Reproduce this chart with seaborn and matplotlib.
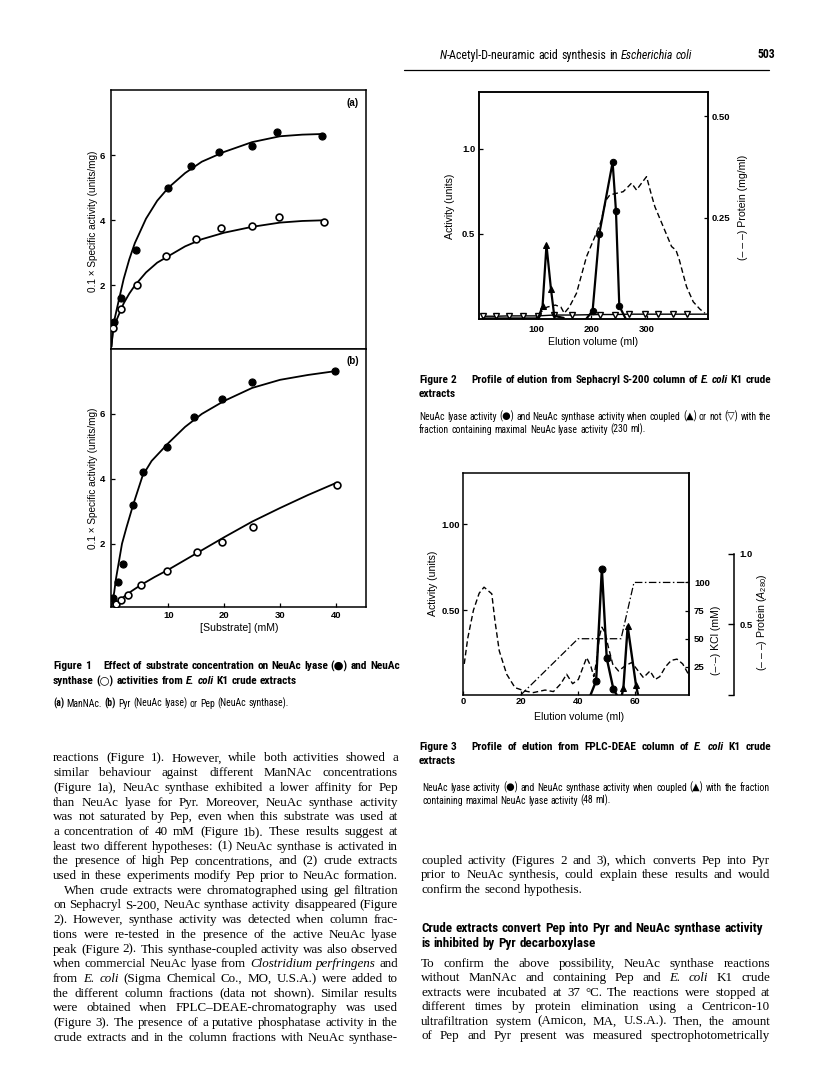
import matplotlib
matplotlib.use("Agg")
import matplotlib.pyplot as plt
import seaborn as sns
import numpy as np
import pandas as pd
from matplotlib import font_manager as fm

# ------------------------------------------------------------------ DATA
# Figure 1a  (ManNAc)
f1a_lyase_x = [0.2, 1.6, 4.2, 9.9, 14.1, 19.0, 24.9, 29.4, 37.5]
f1a_lyase_y = [0.87, 1.62, 3.08, 5.0, 5.68, 6.1, 6.29, 6.70, 6.58]
f1a_synth_x = [0.05, 1.5, 4.3, 9.6, 15.0, 19.5, 25.0, 29.8, 37.8]
f1a_synth_y = [0.70, 1.28, 2.0, 2.89, 3.44, 3.75, 3.83, 4.10, 3.95]
f1a_curve_x = [-0.2, 0.15, 1, 2, 3, 4, 6, 8, 10, 13, 16, 20, 25, 30, 34, 37.7]
f1a_lyase_curve = [0.12, 0.8, 1.45, 2.2, 2.8, 3.3, 4.05, 4.6, 5.0, 5.45, 5.8, 6.1, 6.4, 6.58, 6.63, 6.65]
f1a_synth_curve = [0.12, 0.7, 1.05, 1.45, 1.75, 2.0, 2.4, 2.7, 2.9, 3.2, 3.42, 3.62, 3.8, 3.93, 3.98, 4.0]

# Figure 1b  (Pyr / Pep)
f1b_lyase_x = [0.15, 0.9, 1.9, 3.7, 5.4, 9.7, 14.6, 19.6, 25.0, 39.8]
f1b_lyase_y = [0.34, 0.82, 1.39, 3.2, 4.21, 4.97, 5.9, 6.45, 6.97, 7.31]
f1b_synth_x = [0.6, 1.5, 2.8, 5.05, 9.8, 15.1, 19.6, 25.1, 40.2]
f1b_synth_y = [0.14, 0.28, 0.43, 0.74, 1.17, 1.73, 2.06, 2.51, 3.8]
f1b_lyase_curve_x = [-0.2, 0.3, 0.6, 1.1, 1.7, 2.5, 3.7, 5.4, 7, 10, 13, 16, 20, 25, 30, 35, 40]
f1b_lyase_curve_y = [0.05, 0.5, 0.9, 1.4, 2.0, 2.5, 3.2, 4.1, 4.55, 5.1, 5.6, 6.0, 6.4, 6.8, 7.05, 7.2, 7.32]
f1b_synth_curve_x = [-0.2, 1, 2, 3.5, 5, 7.5, 10, 15, 20, 25, 30, 35, 40]
f1b_synth_curve_y = [0.02, 0.2, 0.36, 0.55, 0.72, 0.97, 1.2, 1.7, 2.2, 2.68, 3.1, 3.5, 3.87]

# Figure 2  (Sephacryl S-200)
f2_notcoupled_x = [5, 28, 52, 76, 104, 133, 165, 215, 243, 268, 297, 320, 347, 371, 408]
f2_notcoupled_y = [0.018, 0.018, 0.02, 0.02, 0.02, 0.025, 0.025, 0.028, 0.028, 0.03, 0.03, 0.03, 0.03, 0.03, 0.03]
f2_coupled_x = [5, 28, 52, 76, 104, 112, 119, 127, 133, 150]
f2_coupled_y = [0.005, 0.005, 0.005, 0.005, 0.005, 0.078, 0.435, 0.18, 0.02, 0.008]
f2_lyase_x = [190, 202, 214, 238, 244, 250, 262]
f2_lyase_y = [0.0, 0.05, 0.50, 0.92, 0.635, 0.078, 0.0]
f2_protein_x = [104, 120, 135, 145, 151, 160, 173, 191, 206, 218, 222, 226, 233, 245, 257, 265,
                272, 281, 290, 299, 307, 314, 329, 344, 352, 358, 365, 371, 383, 395, 404]
f2_protein_y = [0.012, 0.03, 0.035, 0.03, 0.015, 0.03, 0.064, 0.154, 0.203, 0.244, 0.27, 0.293,
                0.306, 0.31, 0.314, 0.325, 0.335, 0.318, 0.335, 0.351, 0.31, 0.277, 0.228, 0.179,
                0.17, 0.146, 0.11, 0.08, 0.043, 0.025, 0.015]

# Figure 3  (FPLC-DEAE)
f3_lyase_x = [44.2, 46.3, 48.3, 50.0, 52.3, 53.7]
f3_lyase_y = [0.0, 0.088, 0.742, 0.22, 0.042, 0.0]
f3_coupled_x = [55.2, 55.8, 57.3, 60.2, 61.0]
f3_coupled_y = [0.0, 0.045, 0.406, 0.064, 0.0]
f3_kcl_x = [20, 40, 55, 59.5, 79]
f3_kcl_y = [0, 50, 50, 100, 100]
f3_protein_x = [0.3, 1.5, 3.5, 5.5, 7.2, 9.9, 11, 12.5, 15.1, 18, 21.5, 24.4, 28.5, 31.4, 34, 36,
                38.1, 40.1, 43.0, 44.5, 45.5, 46.5, 47.5, 48.3, 49.4, 50.6, 52.1, 54.1, 56.4, 58.7,
                60.5, 62.8, 65.1, 66.9, 68.5, 70.5, 72.5, 74.5, 76.5, 78.5, 79]
f3_protein_y = [0.22, 0.40, 0.60, 0.72, 0.763, 0.716, 0.526, 0.313, 0.147, 0.052, 0.028, 0.017,
                0.035, 0.024, 0.08, 0.147, 0.08, 0.11, 0.265, 0.2, 0.13, 0.25, 0.42, 0.48, 0.443,
                0.336, 0.218, 0.17, 0.206, 0.23, 0.183, 0.123, 0.17, 0.11, 0.13, 0.2, 0.245, 0.254,
                0.22, 0.147, 0.12]

# tick labels
f1_yticks = [2, 4, 6]
f1_xticks = [10, 20, 30, 40]
f2_xticks = [100, 200, 300]
f2_yticks = [0.5, 1.0]
f2_yticklabels = ["0.5", "1.0"]
f2_rticks = [0.25, 0.50]
f2_rticklabels = ["0.25", "0.50"]
f3_xticks = [0, 20, 40, 60]
f3_yticks = [0.5, 1.0]
f3_yticklabels = ["0.50", "1.00"]
f3_kticks = [25, 50, 75, 100]
f3_pticks = [0, 0.5, 1.0]
f3_pticklabels = ["", "0.5", "1.0"]

# ------------------------------------------------------------------ STYLE
sns.set_theme(style="ticks", rc={
    "axes.edgecolor": "black", "axes.labelcolor": "black", "text.color": "black",
    "xtick.color": "black", "ytick.color": "black", "axes.linewidth": 1.1,
    "figure.facecolor": "white", "axes.facecolor": "white",
})
_entries = fm.fontManager.ttflist
_names = {f.name for f in _entries}
SANS = "Liberation Sans" if "Liberation Sans" in _names else "DejaVu Sans"
SERIF = "Liberation Serif" if "Liberation Serif" in _names else "DejaVu Serif"

# look for a condensed sans family (captions are set in a condensed grotesque)
NARROW, STRETCH = SANS, "normal"
_pref = ["Liberation Sans Narrow", "Arial Narrow", "Roboto Condensed", "Open Sans Condensed",
         "Noto Sans Condensed", "DejaVu Sans Condensed", "Noto Sans SemiCondensed"]
_found = [p for p in _pref if p in _names]
if _found:
    NARROW = _found[0]
else:
    _cond = [f for f in _entries if str(f.stretch) in ("condensed", "semi-condensed", "extra-condensed")
             and "Mono" not in f.name and "Serif" not in f.name and "CJK" not in f.name]
    if _cond:
        NARROW, STRETCH = _cond[0].name, str(_cond[0].stretch)

plt.rcParams["font.family"] = [SANS, "DejaVu Sans"]
plt.rcParams["mathtext.fontset"] = "custom"
plt.rcParams["mathtext.rm"] = SANS
plt.rcParams["mathtext.it"] = SANS + ":italic"

W, H = 816, 1089
fig = plt.figure(figsize=(W / 100, H / 100), dpi=100)
renderer = fig.canvas.get_renderer()

def ax_at(x0, y0, x1, y1):
    return fig.add_axes([x0 / W, 1 - y1 / H, (x1 - x0) / W, (y1 - y0) / H])

TICKFS = 6.8
LABFS = 7.6
SANSF = [SANS, "DejaVu Sans"]

def vlabel(x, y, s, fs=LABFS, **kw):
    fig.text(x / W, 1 - y / H, s, rotation=90, ha="center", va="center", fontsize=fs, family=SANSF, **kw)

def hlabel(x, y, s, fs=LABFS, **kw):
    fig.text(x / W, 1 - y / H, s, ha="center", va="center", fontsize=fs, family=SANSF, **kw)

def style_ticks(ax, axis="both", pad=3, length=3):
    ax.tick_params(axis=axis, direction="in", length=length, width=0.9, pad=pad, labelsize=TICKFS)

# ------------------------------------------------------------------ FIGURE 1
ax1a = ax_at(111, 90, 366, 349)
ax1b = ax_at(111, 349, 366, 607)
panels = [
    (ax1a, f1a_curve_x, f1a_lyase_curve, f1a_curve_x, f1a_synth_curve,
     f1a_lyase_x, f1a_lyase_y, f1a_synth_x, f1a_synth_y),
    (ax1b, f1b_lyase_curve_x, f1b_lyase_curve_y, f1b_synth_curve_x, f1b_synth_curve_y,
     f1b_lyase_x, f1b_lyase_y, f1b_synth_x, f1b_synth_y),
]
for ax, lcx, lcy, scx, scy, lx, ly, sx, sy in panels:
    sns.lineplot(x=lcx, y=lcy, ax=ax, color="black", lw=1.3, estimator=None, sort=False, legend=False)
    sns.lineplot(x=scx, y=scy, ax=ax, color="black", lw=1.3, estimator=None, sort=False, legend=False)
    sns.scatterplot(x=lx, y=ly, ax=ax, marker="o", s=26, color="black", edgecolor="black",
                    linewidth=0.8, zorder=4, legend=False)
    sns.scatterplot(x=sx, y=sy, ax=ax, marker="o", s=24, color="white", edgecolor="black",
                    linewidth=1.2, zorder=4, legend=False)
    ax.set_xlim(-0.27, 45.4)
    ax.set_ylim(0.05, 8.0)
    ax.set_yticks(f1_yticks, labels=[str(v) for v in f1_yticks], fontweight="bold", fontsize=TICKFS)
    ax.set_xlabel("")
    ax.set_ylabel("")
    style_ticks(ax, "y", pad=4)
ax1a.set_xticks(f1_xticks)
ax1a.tick_params(axis="x", length=0, labelbottom=False)
ax1b.set_xticks(f1_xticks, labels=[str(v) for v in f1_xticks], fontweight="bold", fontsize=TICKFS)
style_ticks(ax1b, "x", pad=2.7)
fig.text(353 / W, 1 - 103 / H, "(a)", ha="center", va="center", fontsize=7, fontweight="bold", family=SANSF)
fig.text(353 / W, 1 - 361 / H, "(b)", ha="center", va="center", fontsize=7, fontweight="bold", family=SANSF)
vlabel(92.5, 221, "0.1 × Specific activity (units/mg)", fs=7.2)
vlabel(92.5, 478, "0.1 × Specific activity (units/mg)", fs=7.2)
hlabel(239, 628, "[Substrate] (mM)")

# ------------------------------------------------------------------ FIGURE 2
ax2 = ax_at(479.3, 91.7, 707.7, 319.3)
ax2r = ax2.twinx()
sns.lineplot(x=f2_protein_x, y=f2_protein_y, ax=ax2r, color="black", lw=1.0, estimator=None,
             sort=False, legend=False, linestyle=(0, (4, 2.2)))
sns.lineplot(x=f2_notcoupled_x, y=f2_notcoupled_y, ax=ax2, color="black", lw=1.0, estimator=None,
             sort=False, legend=False, marker="v", markersize=4.3, markerfacecolor="white",
             markeredgecolor="black", markeredgewidth=1.0, markevery=list(range(14)))
sns.lineplot(x=f2_coupled_x, y=f2_coupled_y, ax=ax2, color="black", lw=1.6, estimator=None,
             sort=False, legend=False, marker="^", markersize=4.6, markerfacecolor="black",
             markeredgecolor="black", markevery=[5, 6, 7])
sns.lineplot(x=f2_lyase_x, y=f2_lyase_y, ax=ax2, color="black", lw=1.6, estimator=None,
             sort=False, legend=False, marker="o", markersize=4.6, markerfacecolor="black",
             markeredgecolor="black", markevery=[1, 2, 3, 4, 5])
ax2.set_zorder(ax2r.get_zorder() + 1)
ax2.patch.set_visible(False)
ax2.set_xlim(-1.8, 409)
ax2.set_ylim(0, 1.333)
ax2r.set_ylim(0, 0.56)
ax2.set_xticks(f2_xticks, labels=[str(v) for v in f2_xticks], fontweight="bold", fontsize=TICKFS)
ax2.set_yticks(f2_yticks, labels=f2_yticklabels, fontweight="bold", fontsize=TICKFS)
ax2r.set_yticks(f2_rticks, labels=f2_rticklabels, fontweight="bold", fontsize=TICKFS)
style_ticks(ax2, "x", pad=3.9)
style_ticks(ax2, "y", pad=3)
style_ticks(ax2r, "y", pad=2.9)
for a in (ax2, ax2r):
    a.set_xlabel(""); a.set_ylabel("")
vlabel(450, 206, "Activity (units)")
vlabel(743, 207, "(– – –) Protein (mg/ml)")
hlabel(593, 341.7, "Elution volume (ml)")

# ------------------------------------------------------------------ FIGURE 3
ax3 = ax_at(463.4, 472.7, 689.3, 695)
ax3k = ax3.twinx()
ax3p = ax3.twinx()
sns.lineplot(x=f3_protein_x, y=f3_protein_y, ax=ax3p, color="black", lw=1.0, estimator=None,
             sort=False, legend=False, linestyle=(0, (4, 2.2)))
sns.lineplot(x=f3_kcl_x, y=f3_kcl_y, ax=ax3k, color="black", lw=0.9, estimator=None,
             sort=False, legend=False, linestyle=(0, (6, 2, 1.2, 2)))
sns.lineplot(x=f3_lyase_x, y=f3_lyase_y, ax=ax3, color="black", lw=1.7, estimator=None,
             sort=False, legend=False, marker="o", markersize=5, markerfacecolor="black",
             markeredgecolor="black", markevery=[1, 2, 3, 4])
sns.lineplot(x=f3_coupled_x, y=f3_coupled_y, ax=ax3, color="black", lw=1.7, estimator=None,
             sort=False, legend=False, marker="^", markersize=4.6, markerfacecolor="black",
             markeredgecolor="black", markevery=[1, 2, 3])
ax3.set_zorder(max(ax3k.get_zorder(), ax3p.get_zorder()) + 1)
ax3.patch.set_visible(False)
ax3.set_xlim(0, 78.8)
ax3.set_ylim(0.006, 1.30)
ax3k.set_ylim(0, 197.5)
ax3p.set_ylim(0, 1.573)
ax3p.spines["right"].set_position(("axes", (734.3 - 463.4) / 225.9))
ax3p.spines["right"].set_bounds(0, 1.0)
for s in ("top", "left", "bottom"):
    ax3p.spines[s].set_visible(False)
    ax3k.spines[s].set_visible(False)
ax3.set_xticks(f3_xticks, labels=[str(v) for v in f3_xticks], fontweight="bold", fontsize=TICKFS)
ax3.set_yticks(f3_yticks, labels=f3_yticklabels, fontweight="bold", fontsize=TICKFS)
ax3k.set_yticks(f3_kticks, labels=[str(v) for v in f3_kticks], fontweight="bold", fontsize=TICKFS)
ax3p.set_yticks(f3_pticks, labels=f3_pticklabels, fontweight="bold", fontsize=TICKFS)
style_ticks(ax3, "x", pad=1.2)
style_ticks(ax3, "y", pad=2.4)
style_ticks(ax3k, "y", pad=3.4)
ax3p.tick_params(axis="y", direction="in", length=4, width=1.0, pad=4, labelsize=TICKFS)
for a in (ax3, ax3k, ax3p):
    a.set_xlabel(""); a.set_ylabel("")
vlabel(433.3, 583.5, "Activity (units)")
vlabel(716, 640, "(–·–) KCl (mM)")
vlabel(761.7, 622, "(– – –) Protein ($A_{280}$)")
hlabel(579, 716.7, "Elution volume (ml)")

# ------------------------------------------------------------------ TEXT
_cache = {}

def parse(line):
    tokens, cur, buf = [], [], ""
    it = bd = False
    for ch in line:
        if ch in "*#":
            if buf:
                cur.append((buf, it, bd)); buf = ""
            if ch == "*":
                it = not it
            else:
                bd = not bd
        elif ch == " ":
            if buf:
                cur.append((buf, it, bd)); buf = ""
            if cur:
                tokens.append(cur); cur = []
        else:
            buf += ch
    if buf:
        cur.append((buf, it, bd))
    if cur:
        tokens.append(cur)
    return tokens

SERIFF = [SERIF, "DejaVu Serif"]
NARF = [NARROW, "DejaVu Sans"]

def kw_for(it, bd, fs, family, weight):
    kw = dict(fontsize=fs, family=family, fontstyle="italic" if it else "normal",
              fontweight="bold" if (bd or weight == "bold") else "normal")
    if family[0] == NARROW and STRETCH != "normal":
        kw["fontstretch"] = STRETCH
    return kw

def pwidth(text, kw):
    key = (text, kw["fontsize"], tuple(kw["family"]), kw["fontstyle"], kw["fontweight"])
    if key not in _cache:
        t = fig.text(0, 0, text, **kw)
        _cache[key] = t.get_window_extent(renderer).width
        t.remove()
    return _cache[key]

def token_width(tok, fs, family, weight):
    return sum(pwidth(p, kw_for(i, b, fs, family, weight)) for p, i, b in tok)

def space_w(fs, family):
    return fs * 100 / 72 * (0.25 if family[0] == SERIF else 0.25)

def natural(line, fs, family, weight):
    toks = parse(line)
    return sum(token_width(t, fs, family, weight) for t in toks) + space_w(fs, family) * (len(toks) - 1)

def fit_fs(items, base, family, weight):
    best = 99
    for line, width in items:
        best = min(best, base * width / natural(line, base, family, weight))
    return best

def draw_line(line, x0, x1, y, fs, family, weight="normal", justify=True):
    toks = parse(line)
    widths = [token_width(t, fs, family, weight) for t in toks]
    if justify and len(toks) > 1:
        gap = (x1 - x0 - sum(widths)) / (len(toks) - 1)
    else:
        gap = space_w(fs, family)
    base = y + 0.3 * fs * 100 / 72
    x = x0
    for tok, tw in zip(toks, widths):
        for p, i, b in tok:
            kw = kw_for(i, b, fs, family, weight)
            fig.text(x / W, 1 - base / H, p, ha="left", va="baseline", **kw)
            x += pwidth(p, kw)
        x += gap

left_body = [
    "reactions (Figure 1). However, while both activities showed a",
    "similar behaviour against different ManNAc concentrations",
    "(Figure 1a), NeuAc synthase exhibited a lower affinity for Pep",
    "than NeuAc lyase for Pyr. Moreover, NeuAc synthase activity",
    "was not saturated by Pep, even when this substrate was used at",
    "a concentration of 40 mM (Figure 1b). These results suggest at",
    "least two different hypotheses: (1) NeuAc synthase is activated in",
    "the presence of high Pep concentrations, and (2) crude extracts",
    "used in these experiments modify Pep prior to NeuAc formation.",
    "When crude extracts were chromatographed using gel filtration",
    "on Sephacryl S-200, NeuAc synthase activity disappeared (Figure",
    "2). However, synthase activity was detected when column frac-",
    "tions were re-tested in the presence of the active NeuAc lyase",
    "peak (Figure 2). This synthase-coupled activity was also observed",
    "when commercial NeuAc lyase from *Clostridium perfringens* and",
    "from *E. coli* (Sigma Chemical Co., MO, U.S.A.) were added to",
    "the different column fractions (data not shown). Similar results",
    "were obtained when FPLC–DEAE-chromatography was used",
    "(Figure 3). The presence of a putative phosphatase activity in the",
    "crude extracts and in the column fractions with NeuAc synthase-",
]
right_body1 = [
    "coupled activity (Figures 2 and 3), which converts Pep into Pyr",
    "prior to NeuAc synthesis, could explain these results and would",
    "confirm the second hypothesis.",
]
right_body2 = [
    "To confirm the above possibility, NeuAc synthase reactions",
    "without ManNAc and containing Pep and *E. coli* K1 crude",
    "extracts were incubated at 37 °C. The reactions were stopped at",
    "different times by protein elimination using a Centricon-10",
    "ultrafiltration system (Amicon, MA, U.S.A.). Then, the amount",
    "of Pep and Pyr present was measured spectrophotometrically",
]
heading = [
    "Crude extracts convert Pep into Pyr and NeuAc synthase activity",
    "is inhibited by Pyr decarboxylase",
]

LX0, LX1 = 53, 398
RX0, RX1 = 421, 770
items = [(l, LX1 - LX0) for l in left_body] + [(l, RX1 - RX0) for l in right_body1[:2] + right_body2]
body_fs = fit_fs(items, 9.0, SERIFF, "normal")
for i, line in enumerate(left_body):
    x0 = LX0 + (11 if i == 9 else 0)
    draw_line(line, x0, LX1, 757.5 + 14.7 * i, body_fs, SERIFF)
for i, line in enumerate(right_body1):
    draw_line(line, RX0, RX1, 860 + 14.5 * i, body_fs, SERIFF, justify=(i < 2))
for i, line in enumerate(right_body2):
    draw_line(line, RX0, RX1, 963 + 14.4 * i, body_fs, SERIFF)
head_fs = fit_fs([(heading[0], 761.7 - RX0)], 9.0, NARF, "bold")
draw_line(heading[0], RX0, RX1, 928, head_fs, NARF, "bold", justify=False)
draw_line(heading[1], RX0, RX1, 943, head_fs, NARF, "bold", justify=False)

# captions (bold)
cap1 = ["Effect of substrate concentration on NeuAc lyase (●) and NeuAc",
        "synthase (○) activities from *E. coli* K1 crude extracts"]
cap2 = ["Profile of elution from Sephacryl S-200 column of *E. coli* K1 crude", "extracts"]
cap3 = ["Profile of elution from FPLC-DEAE column of *E. coli* K1 crude", "extracts"]
capfs = fit_fs([(cap1[0], 400 - 103), (cap2[0], 771 - 471.7), (cap3[0], 771 - 471.7)], 8.5, NARF, "bold")
draw_line("Figure 1", LX0, LX1, 666, capfs, NARF, "bold", justify=False)
draw_line(cap1[0], 103, 400, 666, capfs, NARF, "bold")
draw_line(cap1[1], LX0, LX1, 681, capfs, NARF, "bold", justify=False)
draw_line("Figure 2", 419, RX1, 380, capfs, NARF, "bold", justify=False)
draw_line(cap2[0], 471.7, 771, 380, capfs, NARF, "bold")
draw_line(cap2[1], 419, RX1, 394, capfs, NARF, "bold", justify=False)
draw_line("Figure 3", 419, RX1, 747, capfs, NARF, "bold", justify=False)
draw_line(cap3[0], 471.7, 771, 747, capfs, NARF, "bold")
draw_line(cap3[1], 419, RX1, 761, capfs, NARF, "bold", justify=False)

# captions (small)
sm1 = "#(a)# ManNAc. #(b)# Pyr (NeuAc lyase) or Pep (NeuAc synthase)."
sm2 = ["NeuAc lyase activity (●) and NeuAc synthase activity when coupled (▲) or not (▽) with the",
       "fraction containing maximal NeuAc lyase activity (230 ml)."]
sm3 = ["NeuAc lyase activity (●) and NeuAc synthase activity when coupled (▲) with the fraction",
       "containing maximal NeuAc lyase activity (48 ml)."]
smfs = fit_fs([(sm2[0], 771 - 419), (sm3[0], 770 - 422)], 7.5, NARF, "normal")
draw_line(sm1, LX0, LX1, 704, smfs, NARF, justify=False)
draw_line(sm2[0], 419, 771, 417, smfs, NARF)
draw_line(sm2[1], 419, 771, 430, smfs, NARF, justify=False)
draw_line(sm3[0], 422, 770, 788, smfs, NARF)
draw_line(sm3[1], 422, 770, 801, smfs, NARF, justify=False)

# running header
hdr = "*N*-Acetyl-D-neuramic acid synthesis in *Escherichia coli*"
hfs = fit_fs([(hdr, 692 - 440)], 9.0, NARF, "normal")
draw_line(hdr, 440, 700, 55, hfs, NARF, justify=False)
fig.text(766 / W, 1 - 55 / H, "503", ha="center", va="center", fontsize=8.5, fontweight="bold", family=NARF)
fig.add_artist(plt.Line2D([404 / W, 769 / W], [1 - 69.5 / H, 1 - 69.5 / H], color="black", lw=0.9))

fig.savefig("out.png", dpi=100, facecolor="white")
